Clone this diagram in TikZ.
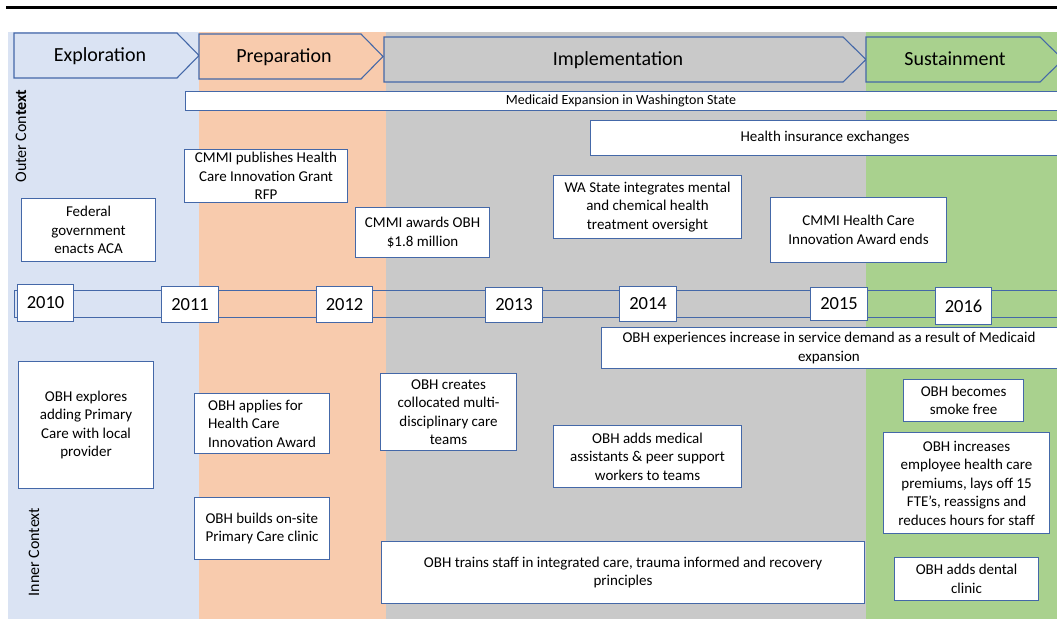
\documentclass[tikz,border=0pt]{standalone}
\usepackage{fontspec}
\setmainfont{Carlito}
\definecolor{cblue}{RGB}{218,227,243}
\definecolor{cpeach}{RGB}{248,203,173}
\definecolor{cgray}{RGB}{201,201,201}
\definecolor{cgreen}{RGB}{169,209,142}
\definecolor{bcol}{RGB}{68,104,168}
\begin{document}
\begin{tikzpicture}[x=1pt,y=-1pt,
  box/.style={draw=bcol, fill=white, line width=1.1pt, inner sep=0pt, anchor=north west, align=center, font=\fontsize{15}{18.5}\selectfont},
  txt/.style={inner sep=0pt, align=center, font=\fontsize{15}{18.5}\selectfont},
  phase/.style={inner sep=0pt, font=\fontsize{20}{22}\selectfont},
  yr/.style={box, font=\fontsize{18.5}{20}\selectfont},
  arr/.style={draw=bcol, line width=1.1pt, line join=miter},
  side/.style={inner sep=0pt, rotate=90, font=\fontsize{16}{18}\selectfont}
]
\useasboundingbox (0,0) rectangle (1057,619);
\clip (0,0) rectangle (1057,619);
\fill[white] (0,0) rectangle (1057,619);
\draw[line width=3pt] (6,7) -- (1057,7);
% phase backgrounds
\fill[cblue] (8,32) rectangle (199,619);
\fill[cpeach] (199,32) rectangle (386,619);
\fill[cgray] (386,32) rectangle (866,619);
\fill[cgreen] (866,32) rectangle (1057,619);
% phase arrows
\draw[arr, fill=cblue] (14,33) -- (177,33) -- (199,55.5) -- (177,78) -- (14,78) -- cycle;
\draw[arr, fill=cpeach] (199,34) -- (361,34) -- (383,56.5) -- (361,79) -- (199,79) -- cycle;
\draw[arr, fill=cgray] (384,37) -- (843,37) -- (866,59.5) -- (843,82) -- (384,82) -- cycle;
\draw[arr, fill=cgreen] (866,37) -- (1040,37) -- (1063,59.5) -- (1040,82) -- (866,82) -- cycle;
\node[phase] (expl) at (100,56) {Exploration};
\node[phase] (prep) at (284,57) {Preparation};
\node[phase] (impl) at (618,60) {Implementation};
\node[phase] (sust) at (955,59) {Sustainment};
% side labels
\node[side] (outer) at (21,136) {Outer Con\textbf{text}};
\node[side] (inner) at (34,552) {Inner Context};
% outer context bars
\node[box, minimum width=880, minimum height=19] (medbar) at (185,91) {};
\node[txt, font=\fontsize{14}{16}\selectfont] (medtxt) at (621,100.5) {Medicaid Expansion in Washington State};
\node[box, minimum width=475, minimum height=35] (hixbar) at (590,120) {};
\node[txt] (hixtxt) at (825,137.5) {Health insurance exchanges};
% outer context boxes
\node[box, minimum width=134, minimum height=63] (aca) at (21,198) {Federal\\government\\enacts ACA};
\node[box, minimum width=163, minimum height=53] (rfp) at (184,149) {CMMI publishes Health\\Care Innovation Grant\\RFP};
\node[box, minimum width=134, minimum height=50] (award) at (355,207) {CMMI awards OBH\\\$1.8 million};
\node[box, minimum width=188, minimum height=63] (wa) at (553,175) {WA State integrates mental\\and chemical health\\treatment oversight};
\node[box, minimum width=176, minimum height=65] (ends) at (770,197) {CMMI Health Care\\Innovation Award ends};
% timeline
\node[draw=bcol, line width=1.1pt, inner sep=0pt, anchor=north west, minimum width=1051, minimum height=27] (tline) at (14,290) {};
\node[yr, minimum width=56, minimum height=37] (y2010) at (17,284) {2010};
\node[yr, minimum width=57, minimum height=36] (y2011) at (161,286) {2011};
\node[yr, minimum width=56, minimum height=36] (y2012) at (316,286) {2012};
\node[yr, minimum width=57, minimum height=35] (y2013) at (485,287) {2013};
\node[yr, minimum width=57, minimum height=35] (y2014) at (619,286) {2014};
\node[yr, minimum width=57, minimum height=33] (y2015) at (810,287) {2015};
\node[yr, minimum width=56, minimum height=37] (y2016) at (935,287) {2016};
% inner context
\node[box, minimum width=464, minimum height=41] (demand) at (601,327) {};
\node[txt] (demandtxt) at (829,348) {OBH experiences increase in service demand as a result of Medicaid\\expansion};
\node[box, minimum width=135, minimum height=127] (explores) at (18,361) {OBH explores\\adding Primary\\Care with local\\provider};
\node[box, align=left, minimum width=135, minimum height=60] (applies) at (194,393) {OBH applies for\\Health Care\\Innovation Award};
\node[box, align=left, minimum width=135, minimum height=62] (builds) at (194,497) {OBH builds on-site\\Primary Care clinic};
\node[box, minimum width=136, minimum height=77] (creates) at (380,373) {OBH creates\\collocated multi-\\disciplinary care\\teams};
\node[box, minimum width=188, minimum height=62] (adds) at (553,425) {OBH adds medical\\assistants \& peer support\\workers to teams};
\node[box, minimum width=483, minimum height=62] (trains) at (381,541) {OBH trains staff in integrated care, trauma informed and recovery\\principles};
\node[box, minimum width=120, minimum height=42] (smoke) at (903,379) {OBH becomes\\smoke free};
\node[box, minimum width=166, minimum height=101] (premiums) at (883,432) {OBH increases\\employee health care\\premiums, lays off 15\\FTE’s, reassigns and\\reduces hours for staff};
\node[box, minimum width=144, minimum height=43] (dental) at (894,557) {OBH adds dental\\clinic};
\end{tikzpicture}
\end{document}
